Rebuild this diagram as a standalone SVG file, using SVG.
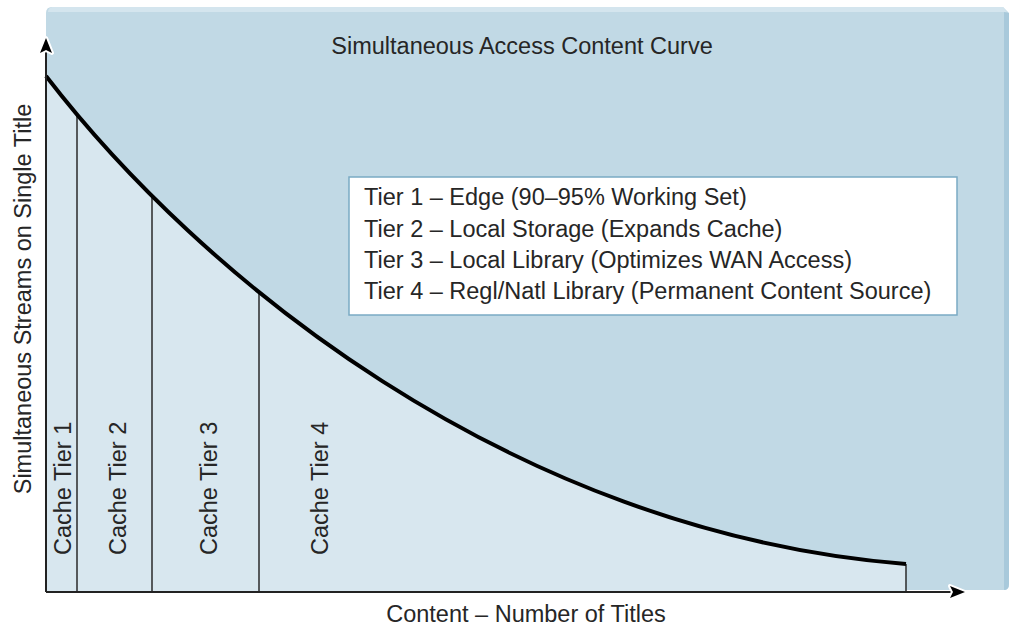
<svg xmlns="http://www.w3.org/2000/svg" width="1013" height="628" viewBox="0 0 1013 628">
<defs>
<style>
.t{font-family:"Liberation Sans",Arial,sans-serif;font-size:23.5px;fill:#262626;}
.tier{stroke:#2a2a2a;stroke-width:1.5;fill:none;}
.axis{stroke:#222;stroke-width:2;fill:none;}
</style>
</defs>
<rect width="1013" height="628" fill="#ffffff"/>
<g id="panel">
<path d="M46,13 Q46,7 52,7 L1003,7 L1009,13 L1009,584 Q1009,590 1003,590 L46,590 Z" fill="#c1d9e5"/>
<path d="M52,7 L1003,7 L1007,12 L48,12 Q48,8 52,7 Z" fill="#d4e5ee"/>
<path d="M1004,12 L1009,13 L1009,584 Q1009,590 1004,590 Z" fill="#a8c9db"/>
</g>
<g id="area">
<path d="M46,76 C196,271 506,532 906,564 L906,592 L46,592 Z" fill="#d8e7ef"/>
</g>
<g id="tiers">
<line class="tier" x1="77" y1="116" x2="77" y2="592"/>
<line class="tier" x1="152" y1="196" x2="152" y2="592"/>
<line class="tier" x1="259" y1="292" x2="259" y2="592"/>
<line class="tier" x1="906" y1="564" x2="906" y2="592"/>
</g>
<g id="curve">
<path d="M46,76 C196,271 506,532 906,564" fill="none" stroke="#000" stroke-width="4"/>
</g>
<g id="axes">
<line class="axis" x1="46" y1="592" x2="46" y2="46"/>
<line class="axis" x1="46" y1="592" x2="956" y2="592"/>
<path d="M46,38 L52,53 L46,50 L40,53 Z" fill="#000" stroke="#fff" stroke-width="4" stroke-linejoin="round"/>
<path d="M46,38 L52,53 L46,50 L40,53 Z" fill="#000"/>
<path d="M965,592 L950,586 L953,592 L950,598 Z" fill="#000" stroke="#fff" stroke-width="4" stroke-linejoin="round"/>
<path d="M965,592 L950,586 L953,592 L950,598 Z" fill="#000"/>
</g>
<g id="title">
<text class="t" x="522" y="54" text-anchor="middle">Simultaneous Access Content Curve</text>
</g>
<g id="legend">
<rect x="349" y="177" width="608" height="138" fill="#ffffff" stroke="#7aaac4" stroke-width="1.5"/>
<text class="t" x="364" y="205">Tier 1 – Edge (90–95% Working Set)</text>
<text class="t" x="364" y="237">Tier 2 – Local Storage (Expands Cache)</text>
<text class="t" x="364" y="268">Tier 3 – Local Library (Optimizes WAN Access)</text>
<text class="t" x="364" y="299">Tier 4 – Regl/Natl Library (Permanent Content Source)</text>
</g>
<g id="tier-labels">
<text class="t" transform="translate(71,555) rotate(-90)">Cache Tier 1</text>
<text class="t" transform="translate(126,555) rotate(-90)">Cache Tier 2</text>
<text class="t" transform="translate(217,555) rotate(-90)">Cache Tier 3</text>
<text class="t" transform="translate(328,555) rotate(-90)">Cache Tier 4</text>
</g>
<g id="axis-labels">
<text class="t" transform="translate(31,299) rotate(-90)" text-anchor="middle">Simultaneous Streams on Single Title</text>
<text class="t" x="526" y="622" text-anchor="middle">Content – Number of Titles</text>
</g>
</svg>
